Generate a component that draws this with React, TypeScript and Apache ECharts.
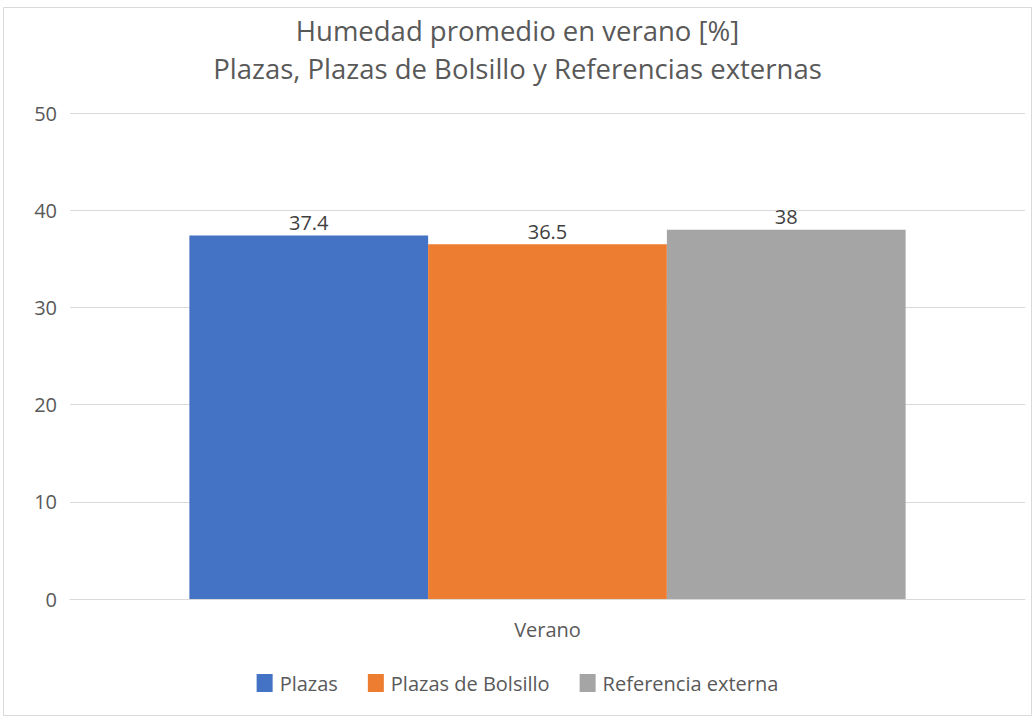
import React, { useEffect, useRef } from "react";
import * as echarts from "echarts";

const categories = ["Verano"];
const seriesNames = ["Plazas", "Plazas de Bolsillo", "Referencia externa"];
const seriesValues = [[37.4], [36.5], [38]];
const seriesColors = ["#4472C4", "#ED7D31", "#A5A5A5"];
const titleLines = ["Humedad promedio en verano [%]", "Plazas, Plazas de Bolsillo y Referencias externas"];

const FONT = "'Open Sans', 'Noto Sans', sans-serif";

export default function App() {
  const ref = useRef<HTMLDivElement>(null);
  useEffect(() => {
    document.body.style.margin = "0";
    const chart = echarts.init(ref.current!, undefined, { renderer: "svg" });
    chart.setOption({
      animation: false,
      backgroundColor: "#ffffff",
      textStyle: { fontFamily: FONT },
      title: {
        text: titleLines.join("\n"),
        left: "center",
        top: 6,
        textStyle: { fontFamily: FONT, fontSize: 27.5, fontWeight: "normal", color: "#595959", lineHeight: 38 },
      },
      legend: {
        top: 668,
        left: "center",
        itemWidth: 16,
        itemHeight: 18,
        itemGap: 30,
        icon: "rect",
        textStyle: { fontFamily: FONT, fontSize: 20, color: "#595959", padding: [0, 0, 0, 2] },
        data: seriesNames,
      },
      grid: { left: 70, right: 10, top: 113, bottom: 120, containLabel: false },
      xAxis: {
        type: "category",
        data: categories,
        axisLine: { lineStyle: { color: "#d9d9d9" } },
        axisTick: { show: false },
        axisLabel: { fontFamily: FONT, fontSize: 20, color: "#595959", margin: 20 },
      },
      yAxis: {
        type: "value",
        min: 0,
        max: 50,
        interval: 10,
        axisLine: { show: false },
        axisTick: { show: false },
        splitLine: { lineStyle: { color: "#d9d9d9" } },
        axisLabel: { fontFamily: FONT, fontSize: 20, color: "#595959", margin: 13 },
      },
      series: seriesNames.map((name, i) => ({
        name,
        type: "bar",
        data: seriesValues[i],
        barGap: "0%",
        barCategoryGap: "25%",
        itemStyle: { color: seriesColors[i] },
        label: {
          show: true,
          position: "top",
          distance: 3,
          fontFamily: FONT,
          fontSize: 20,
          color: "#404040",
        },
      })),
      graphic: [
        {
          type: "rect",
          shape: { x: 3.5, y: 7.5, width: 1028, height: 708 },
          style: { fill: "none", stroke: "#d9d9d9", lineWidth: 1 },
          silent: true,
        },
      ],
    });
    return () => chart.dispose();
  }, []);
  return <div ref={ref} style={{ position: "absolute", left: 0, top: 0, width: 1035, height: 719 }} />;
}
